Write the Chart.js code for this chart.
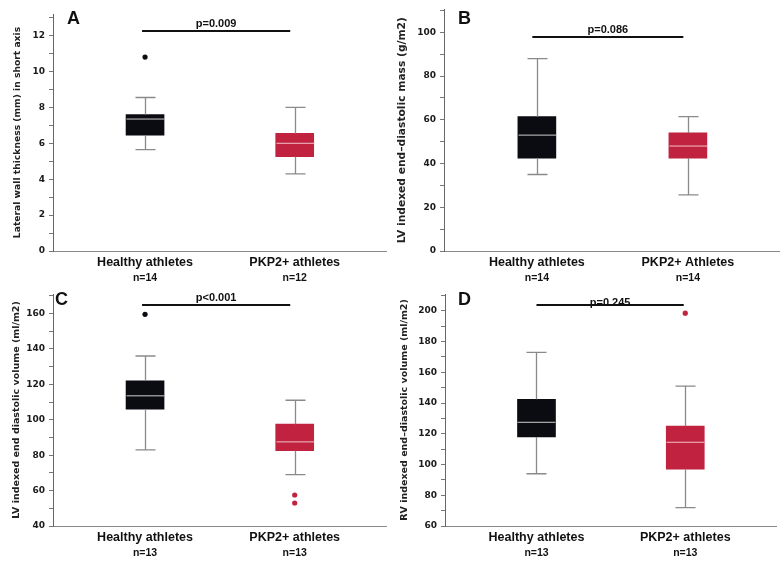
<!DOCTYPE html>
<html>
<head>
<meta charset="utf-8">
<script src="https://cdn.jsdelivr.net/npm/chart.js@4.4.0/dist/chart.umd.min.js"></script>
<style>
    body { margin: 0; background: #fff; }
    #grid { position: relative; width: 780px; height: 562px; }
    #grid canvas { position: absolute; }
</style>
</head>
<body>
<div id="grid">
    <canvas id="chartA" width="390" height="281" style="left:0;top:0"></canvas>
    <canvas id="chartB" width="390" height="281" style="left:390px;top:0"></canvas>
    <canvas id="chartC" width="390" height="281" style="left:0;top:281px"></canvas>
    <canvas id="chartD" width="390" height="281" style="left:390px;top:281px"></canvas>
</div>
<script>
// Groups
const groups = ['Healthy athletes', 'PKP2+ athletes'];
const groupsB = ['Healthy athletes', 'PKP2+ Athletes'];

// Box values per group: [low whisker, Q1, median, Q3, high whisker]
const wallBox = [[5.65, 6.45, 7.35, 7.6, 8.55], [4.3, 5.25, 6.0, 6.55, 8.0]];
const massBox = [[35, 42.5, 53, 61.5, 88], [25.7, 42.5, 48, 54, 61.5]];
const lvVolBox = [[83, 106, 113.5, 122, 136], [69, 82.5, 87.5, 97.5, 111]];
const rvVolBox = [[94, 118, 127.5, 142.5, 173], [72, 97, 114.5, 125, 151]];

// Outliers per group
const wallOut = [[10.8], []];
const massOut = [[], []];
const lvVolOut = [[159.5], [57.5, 53]];
const rvVolOut = [[], [198.5]];

// Sample sizes
const wallN = [14, 12];
const massN = [14, 14];
const lvVolN = [13, 13];
const rvVolN = [13, 13];

// p-values and the height of their brackets
const pTexts = ['p=0.009', 'p=0.086', 'p<0.001', 'p=0.245'];
const pLevels = [12.25, 98, 165, 204];

const groupColors = ['#0b0b12', '#c0223f'];
const medianColors = ['#cfcfcf', '#f2c4cc'];

// Draws whiskers, medians, the p bracket and all the text
const boxDecor = {
    id: 'boxDecor',
    afterDatasetsDraw(chart, args, opts) {
        const { ctx, scales: { x, y } } = chart;
        ctx.save();
        opts.boxes.forEach((b, i) => {
            const cx = Math.round(x.getPixelForValue(i + 1)) + 0.5;
            ctx.strokeStyle = '#8a8a8a';
            ctx.lineWidth = 1.3;
            ctx.beginPath();
            ctx.moveTo(cx, y.getPixelForValue(b[0]));
            ctx.lineTo(cx, y.getPixelForValue(b[1]));
            ctx.moveTo(cx, y.getPixelForValue(b[3]));
            ctx.lineTo(cx, y.getPixelForValue(b[4]));
            ctx.moveTo(cx - 10, y.getPixelForValue(b[0]));
            ctx.lineTo(cx + 10, y.getPixelForValue(b[0]));
            ctx.moveTo(cx - 10, y.getPixelForValue(b[4]));
            ctx.lineTo(cx + 10, y.getPixelForValue(b[4]));
            ctx.stroke();
            // median
            ctx.strokeStyle = medianColors[i];
            ctx.lineWidth = 1;
            ctx.beginPath();
            ctx.moveTo(cx - 19, y.getPixelForValue(b[2]));
            ctx.lineTo(cx + 19, y.getPixelForValue(b[2]));
            ctx.stroke();
        });
        ctx.restore();
    },
    afterDraw(chart, args, opts) {
        const { ctx, chartArea, scales: { x, y } } = chart;
        ctx.save();
        // p bracket
        const py = Math.round(y.getPixelForValue(opts.pLevel));
        ctx.strokeStyle = '#111';
        ctx.lineWidth = 2;
        ctx.beginPath();
        ctx.moveTo(x.getPixelForValue(opts.bracket[0]), py);
        ctx.lineTo(x.getPixelForValue(opts.bracket[1]), py);
        ctx.stroke();
        ctx.fillStyle = '#111';
        ctx.textAlign = 'center';
        ctx.textBaseline = 'alphabetic';
        ctx.font = 'bold 11px "Liberation Sans", Arial, sans-serif';
        const midX = (x.getPixelForValue(opts.bracket[0]) + x.getPixelForValue(opts.bracket[1])) / 2;
        ctx.fillText(opts.pText, midX, py - opts.pGap);

        // panel letter
        ctx.textAlign = 'left';
        ctx.font = 'bold 18px "Liberation Sans", Arial, sans-serif';
        ctx.fillText(opts.letter, chartArea.left + opts.letterDx, 24);

        // group labels
        ctx.textAlign = 'center';
        ctx.textBaseline = 'middle';
        opts.labels.forEach((lbl, i) => {
            const cx = x.getPixelForValue(i + 1);
            ctx.font = 'bold 12.5px "Liberation Sans", Arial, sans-serif';
            ctx.fillText(lbl, cx, chartArea.bottom + 12);
            ctx.font = 'bold 10.5px "Liberation Sans", Arial, sans-serif';
            ctx.fillText('n=' + opts.n[i], cx, chartArea.bottom + 27);
        });
        ctx.restore();
    }
};

function makeChart(id, cfg) {
    const outPoints = [];
    const outColors = [];
    cfg.outliers.forEach((vals, i) => {
        vals.forEach(v => {
            outPoints.push({ x: i + 1, y: v });
            outColors.push(groupColors[i]);
        });
    });

    return new Chart(document.getElementById(id), {
        type: 'bar',
        data: {
            datasets: [{
                data: cfg.boxes.map((b, i) => ({ x: i + 1, y: [b[1], b[3]] })),
                backgroundColor: groupColors,
                borderWidth: 0,
                barThickness: 38
            }, {
                type: 'scatter',
                data: outPoints,
                pointBackgroundColor: outColors,
                pointBorderWidth: 0,
                pointRadius: 2.6
            }]
        },
        options: {
            responsive: false,
            animation: false,
            layout: { padding: { top: cfg.top, right: 0, left: 0, bottom: 0 } },
            plugins: {
                legend: { display: false },
                tooltip: { enabled: false },
                boxDecor: {
                    boxes: cfg.boxes,
                    labels: cfg.labels,
                    n: cfg.n,
                    pText: cfg.pText,
                    pLevel: cfg.pLevel,
                    pGap: cfg.pGap,
                    bracket: cfg.bracket,
                    letter: cfg.letter,
                    letterDx: cfg.letterDx
                }
            },
            scales: {
                x: {
                    type: 'linear',
                    min: 0.385,
                    max: 2.61,
                    offset: false,
                    grid: { display: false },
                    ticks: { display: false },
                    border: { display: true, color: '#8a8a8a', width: 1 },
                    afterFit(scale) { scale.height = cfg.bottomSpace; }
                },
                y: {
                    min: cfg.min,
                    max: cfg.max,
                    grid: {
                        drawOnChartArea: false,
                        drawTicks: true,
                        tickLength: 4,
                        color: '#777'
                    },
                    border: { display: true, color: '#666', width: 1 },
                    ticks: {
                        stepSize: cfg.minor,
                        autoSkip: false,
                        includeBounds: false,
                        padding: 4,
                        color: '#1a1a1a',
                        font: { family: '"DejaVu Sans", sans-serif', size: 9, weight: 'bold' },
                        callback: v => (Math.abs(v / cfg.major - Math.round(v / cfg.major)) < 1e-6 ? v : '')
                    },
                    title: {
                        display: true,
                        text: cfg.title,
                        color: '#222',
                        font: { family: '"DejaVu Sans", sans-serif', size: cfg.titleSize, weight: 'bold' },
                        padding: { top: cfg.titlePad, bottom: 0 }
                    },
                    afterFit(scale) { scale.width = cfg.axisLeft; }
                }
            }
        },
        plugins: [boxDecor]
    });
}

makeChart('chartA', {
    boxes: wallBox, outliers: wallOut, labels: groups, n: wallN,
    pText: pTexts[0], pLevel: pLevels[0], pGap: 4, bracket: [0.98, 1.97],
    letter: 'A', letterDx: 14,
    title: 'Lateral wall thickness (mm) in short axis', titleSize: 9.2, titlePad: 12,
    min: 0, max: 13.2, minor: 1, major: 2,
    top: 14, bottomSpace: 30, axisLeft: 53
});

makeChart('chartB', {
    boxes: massBox, outliers: massOut, labels: groupsB, n: massN,
    pText: pTexts[1], pLevel: pLevels[1], pGap: 4, bracket: [0.97, 1.97],
    letter: 'B', letterDx: 14,
    title: 'LV indexed end\u2013diastolic mass (g/m2)', titleSize: 10.7, titlePad: 6,
    min: 0, max: 110.5, minor: 10, major: 20,
    top: 5, bottomSpace: 30, axisLeft: 54
});

makeChart('chartC', {
    boxes: lvVolBox, outliers: lvVolOut, labels: groups, n: lvVolN,
    pText: pTexts[2], pLevel: pLevels[2], pGap: 4, bracket: [0.98, 1.97],
    letter: 'C', letterDx: 2,
    title: 'LV indexed end diastolic volume (ml/m2)', titleSize: 9.5, titlePad: 11,
    min: 40, max: 171, minor: 10, major: 20,
    top: 13, bottomSpace: 36, axisLeft: 53
});

makeChart('chartD', {
    boxes: rvVolBox, outliers: rvVolOut, labels: groups, n: rvVolN,
    pText: pTexts[3], pLevel: pLevels[3], pGap: -1, bracket: [1.0, 1.99],
    letter: 'D', letterDx: 13,
    title: 'RV indexed end\u2013diastolic volume (ml/m2)', titleSize: 9.5, titlePad: 9,
    min: 60, max: 211, minor: 10, major: 20,
    top: 13, bottomSpace: 36, axisLeft: 55
});
</script>
</body>
</html>
